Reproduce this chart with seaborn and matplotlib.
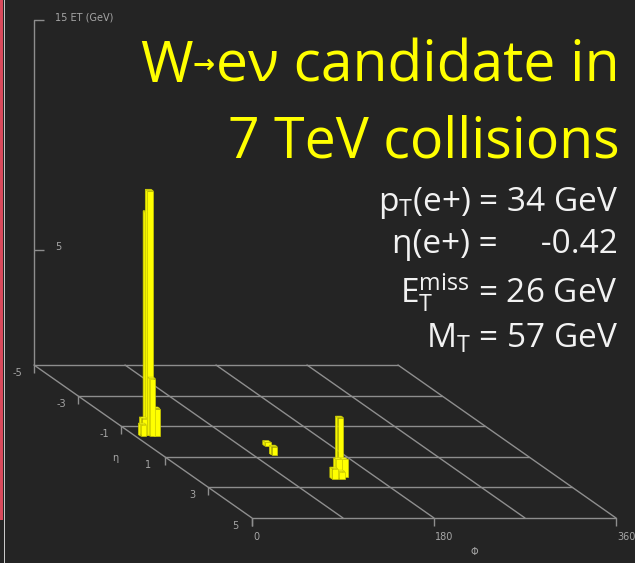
import numpy as np
import pandas as pd
import matplotlib
matplotlib.use("Agg")
import matplotlib.pyplot as plt
from matplotlib.patches import Rectangle
import seaborn as sns

# ---------------------------------------------------------------- data
# Calorimeter cells of the event: phi centre (deg), eta centre, ET (GeV)
tower_phi = [17.0, 17.0, 17.0, 21.5, 11.3, 8.0,
             148.0, 144.0, 150.0, 137.0, 144.0,
             117.0, 111.0]
tower_eta = [-0.6, -0.5, -0.4, -0.4, -0.5, -0.4,
             2.15, 2.25, 2.25, 2.4, 2.4,
             0.25, 0.83]
tower_et = [9.6, 10.6, 2.5, 1.2, 0.7, 0.5,
            2.5, 0.75, 0.75, 0.45, 0.32,
            0.17, 0.36]

eta_ticks = [-5, -3, -1, 1, 3, 5]
phi_grid = [0, 90, 180, 270, 360]
phi_ticks = [0, 180, 360]
et_ticks = [5, 15]
et_tick_labels = ["5", "15 ET (GeV)"]

title_lines = ["W\u2192e\u03bd candidate in", "7 TeV collisions"]
summary_lines = [
    r"p$_{\mathregular{T}}$(e+) = 34 GeV",
    "\u03b7(e+) =     -0.42",
    r"E$_{\mathregular{T}}^{\mathregular{miss}}$ = 26 GeV",
    r"M$_{\mathregular{T}}$ = 57 GeV",
]

# ---------------------------------------------------------------- style
BG = "#242424"
GRID = "#8e8e8e"
LABEL = "#a6a6a6"
YELLOW = "#ffff00"

sns.set_theme(style="dark", rc={"figure.facecolor": BG, "axes.facecolor": BG})
plt.rcParams["font.family"] = ["Open Sans", "DejaVu Sans"]
plt.rcParams["mathtext.default"] = "regular"

W, H = 635, 563
fig = plt.figure(figsize=(W / 100, H / 100), dpi=100)
ax = fig.add_axes([0, 0, 1, 1])
ax.set_facecolor(BG)
ax.set_xlim(0, W)
ax.set_ylim(H, 0)

# oblique lego projection: phi runs across, eta recedes up-left, ET goes up
ORIGIN = (34.0, 365.0)          # (phi=0, eta=-5, ET=0)
PX_PER_DEG = 364.0 / 360.0
ETA_DX, ETA_DY = 21.8, 15.3
PX_PER_GEV = 23.0


def proj(phi, eta, et=0.0):
    phi = np.asarray(phi, float)
    eta = np.asarray(eta, float)
    et = np.asarray(et, float)
    x = ORIGIN[0] + PX_PER_DEG * phi + ETA_DX * (eta + 5)
    y = ORIGIN[1] + ETA_DY * (eta + 5) - PX_PER_GEV * et
    return x, y


# ---------------------------------------------------------------- grid
segs = []
for e in eta_ticks:
    for p in (0, 360):
        x, y = proj(p, e)
        segs.append({"seg": f"eta{e}", "x": float(x), "y": float(y)})
for p in phi_grid:
    for e in (-5, 5):
        x, y = proj(p, e)
        segs.append({"seg": f"phi{p}", "x": float(x), "y": float(y)})
# ET axis rising from the back corner
for et in (0, max(et_ticks)):
    x, y = proj(0, -5, et)
    segs.append({"seg": "et", "x": float(x), "y": float(y)})
grid_df = pd.DataFrame(segs)
sns.lineplot(data=grid_df, x="x", y="y", units="seg", estimator=None,
             sort=False, color=GRID, lw=1.0, ax=ax, legend=False)

tick_kw = dict(color=GRID, lw=1.0, solid_capstyle="butt")
txt_kw = dict(color=LABEL, fontsize=7, family="DejaVu Sans")

for e in eta_ticks:
    x, y = proj(0, e)
    ax.plot([x, x], [y, y + 8], **tick_kw)
    ax.text(x - 16.5, y + 8, f"{e}", ha="center", va="center", **txt_kw)
ax.text(115, 458, "\u03b7", ha="center", va="center", **txt_kw)

for p in phi_ticks:
    x, y = proj(p, 5)
    ax.plot([x, x], [y, y + 8], **tick_kw)
    ax.text(x + 1, y + 19, f"{p}", ha="left", va="center", **txt_kw)
ax.text(474, 552, "\u03a6", ha="center", va="center", **txt_kw)

for et, lab in zip(et_ticks, et_tick_labels):
    x, y = proj(0, -5, et)
    ax.plot([x, x + 10], [y, y], **tick_kw)
    ax.text(x + 21, y - 3, lab, ha="left", va="center", **txt_kw)

# ---------------------------------------------------------------- towers
DPHI, DETA = 2.85, 0.05
order = sorted(range(len(tower_et)), key=lambda i: (tower_eta[i], -tower_phi[i]))
for i in order:
    p0, p1 = tower_phi[i] - DPHI, tower_phi[i] + DPHI
    e0, e1 = tower_eta[i] - DETA, tower_eta[i] + DETA
    et = tower_et[i]
    faces = [
        ([p0, p0, p0, p0], [e1, e0, e0, e1], [0, 0, et, et], "#f4f400"),   # left side
        ([p0, p1, p1, p0], [e1, e1, e0, e0], [et, et, et, et], "#ffff20"), # top
        ([p0, p1, p1, p0], [e1, e1, e1, e1], [0, 0, et, et], YELLOW),      # front
    ]
    for ps, es, ets, col in faces:
        fx, fy = proj(ps, es, ets)
        ax.fill(fx, fy, facecolor=col, edgecolor="#caca00", lw=0.5, zorder=3)

# ---------------------------------------------------------------- text
renderer = fig.canvas.get_renderer()
inv = ax.transData.inverted()

# first title line: the decay arrow is set smaller, at mid height
head, rest = title_lines[0].split("\u2192")
t_rest = ax.text(620, 82, rest, ha="right", va="baseline", color=YELLOW, fontsize=41)
x_left = inv.transform(t_rest.get_window_extent(renderer))[0][0]
t_arr = ax.text(x_left - 2, 66, "\u2192", ha="right", va="center", color=YELLOW,
                fontsize=19, family="DejaVu Sans", fontweight="bold")
x_left = inv.transform(t_arr.get_window_extent(renderer))[0][0]
ax.text(x_left + 1, 82, head, ha="right", va="baseline", color=YELLOW, fontsize=41)

ax.text(620, 157, title_lines[1], ha="right", va="baseline", color=YELLOW, fontsize=40)

for line, base in zip(summary_lines, (211, 253, 303, 348)):
    ax.text(618, base, line, ha="right", va="baseline", color="#f2f2f2", fontsize=24)

ax.set_axis_off()

# window edge on the left
fig.patches.append(Rectangle((0, 43), 3, 520, transform=None, facecolor="#d94a5c",
                             edgecolor="none"))
fig.patches.append(Rectangle((3.5, 0), 1.5, 563, transform=None, facecolor="#c8c8c8",
                             edgecolor="none"))

fig.savefig("out.png", dpi=100, facecolor=BG)
